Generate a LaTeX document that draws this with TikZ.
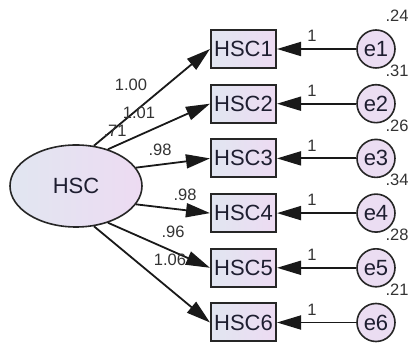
\documentclass[tikz,border=0pt]{standalone}
\usepackage{fontspec}
\setmainfont{Liberation Sans}
\usetikzlibrary{arrows.meta,shapes.geometric}
\definecolor{fillL}{HTML}{E1E6F1}
\definecolor{fillR}{HTML}{EDDBF2}
\definecolor{errfill}{HTML}{EBDDF2}
\definecolor{ink}{HTML}{1E1E30}
\definecolor{numink}{HTML}{333333}
\begin{document}
\begin{tikzpicture}[x=1pt,y=-1pt,
  obs/.style={draw=black!85, line width=2pt, left color=fillL, right color=fillR,
    minimum width=65pt, minimum height=38pt, inner sep=0pt,
    font=\fontsize{22}{24}\selectfont, text=ink},
  lat/.style={ellipse, draw=black!85, line width=1.6pt, left color=fillL, right color=fillR,
    minimum width=132pt, minimum height=82pt, inner sep=0pt,
    font=\fontsize{22}{24}\selectfont, text=ink},
  err/.style={circle, draw=black!85, line width=1.6pt, fill=errfill,
    minimum size=38pt, inner sep=0pt,
    font=\fontsize{22}{24}\selectfont, text=ink},
  regarrow/.style={line width=1.8pt, draw=black!90,
    -{Triangle[length=24pt,width=14pt]}},
  num/.style={font=\fontsize{16.5}{18}\selectfont, text=numink, inner sep=0pt}
]
\useasboundingbox (0,0) rectangle (410,344);

% latent factor
\node[lat] (hsc) at (76,186) {HSC};

% indicators and their error terms
\foreach \i/\v in {1/.24,2/.31,3/.26,4/.34,5/.28,6/.21}{
  \pgfmathsetmacro{\yy}{49+54.7*(\i-1)}
  \node[obs] (x\i) at (243.5,\yy) {HSC\i};
  \node[err] (e\i) at (376,\yy) {e\i};
  \draw[regarrow] (e\i) -- (x\i);
  \node[num] (w\i) at (312,\yy-13) {1};
  \node[num] (v\i) at (397,\yy-33) {\v};
}

% factor loadings
\draw[regarrow] (hsc.66)  -- (x1.west);
\draw[regarrow] (hsc.49)  -- (x2.west);
\draw[regarrow] (hsc.17)  -- (x3.west);
\draw[regarrow] (hsc.-17) -- (x4.west);
\draw[regarrow] (hsc.-49) -- (x5.west);
\draw[regarrow] (hsc.-66) -- (x6.west);

\node[num] (l1) at (131,85)  {1.00};
\node[num] (l2) at (139,113) {1.01};
\node[num] (r2) at (115,131) {.71};
\node[num] (l3) at (160,150) {.98};
\node[num] (l4) at (185,195) {.98};
\node[num] (l5) at (173,232) {.96};
\node[num] (l6) at (170,260) {1.06};
\end{tikzpicture}
\end{document}
